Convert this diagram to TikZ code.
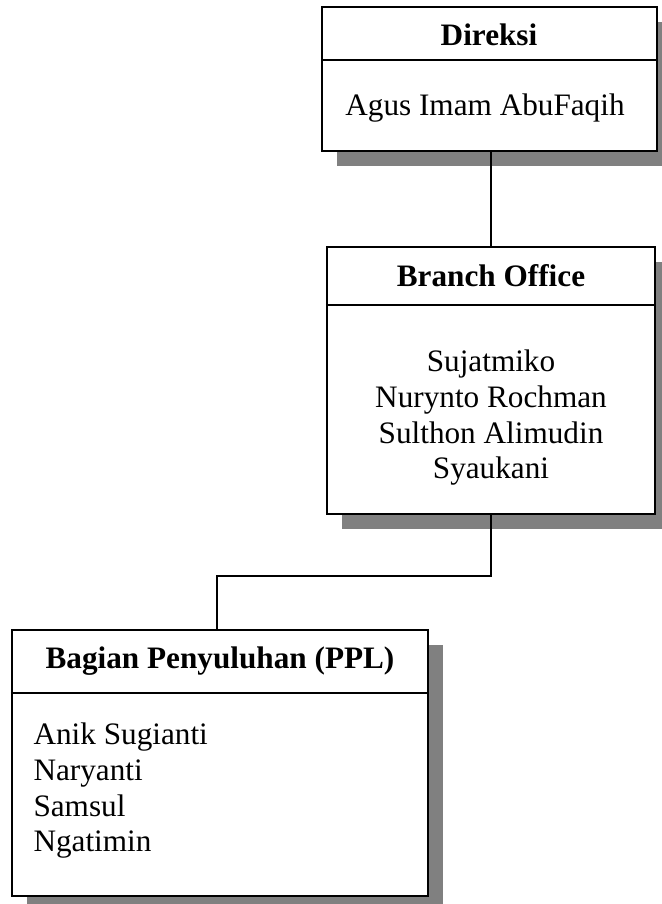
\documentclass[tikz,border=0pt]{standalone}
\usepackage{fontspec}
\setmainfont{Liberation Serif}
\usepackage[x11names, rgb]{xcolor}
\usepackage{tikz}
\usetikzlibrary{shapes,shadows}

\begin{document}
\begin{tikzpicture}
	[
		x=0.3843pt, y=-0.3843pt,
		every node/.style = {font=\fontsize{12}{13.8}\selectfont, inner sep=0pt},
		unit/.style = {draw, line width=0.8pt, fill=white, shape=rectangle,
			drop shadow={shadow xshift=5.8pt, shadow yshift=-5.8pt, fill=gray, opacity=1}},
		title/.style = {font=\fontsize{12}{13.8}\selectfont\bfseries, anchor=base},
		link/.style = {line width=0.6pt},
	]
  \useasboundingbox (0,0) rectangle (661,904);

  % kotak-kotak
  \node[unit, minimum width=128.7pt, minimum height=55.3pt] (dir) at (489.5,79) {};
  \node[unit, minimum width=126.1pt, minimum height=102.6pt] (bo) at (491,380.5) {};
  \node[unit, minimum width=159.9pt, minimum height=102.2pt] (ppl) at (220,763) {};

  \draw[line width=0.8pt] ([yshift=-20.8pt]dir.north west) -- ([yshift=-20.8pt]dir.north east);
  \draw[line width=0.8pt] ([yshift=-22.7pt]bo.north west) -- ([yshift=-22.7pt]bo.north east);
  \draw[line width=0.8pt] ([yshift=-24.6pt]ppl.north west) -- ([yshift=-24.6pt]ppl.north east);

  % judul dan isi
  \node[title] (dirT) at (489,46) {Direksi};
  \node[anchor=base] (dirB) at (485,116) {Agus Imam AbuFaqih};

  \node[title] (boT) at (491,287) {Branch Office};
  \node[anchor=north, align=center] (boB) at (491,349)
  	{Sujatmiko\\Nurynto Rochman\\Sulthon Alimudin\\Syaukani};

  \node[title] (pplT) at (220,668) {Bagian Penyuluhan (PPL)};
  \node[anchor=north west, align=left] (pplB) at (33,722)
  	{Anik Sugianti\\Naryanti\\Samsul\\Ngatimin};

  % garis
  \coordinate (turn) at (217,576);
  \draw[link] (bo.north |- dir.south) -- (bo.north);
  \draw[link] (bo.south) |- (turn) -- (turn |- ppl.north);

\end{tikzpicture}
\end{document}
